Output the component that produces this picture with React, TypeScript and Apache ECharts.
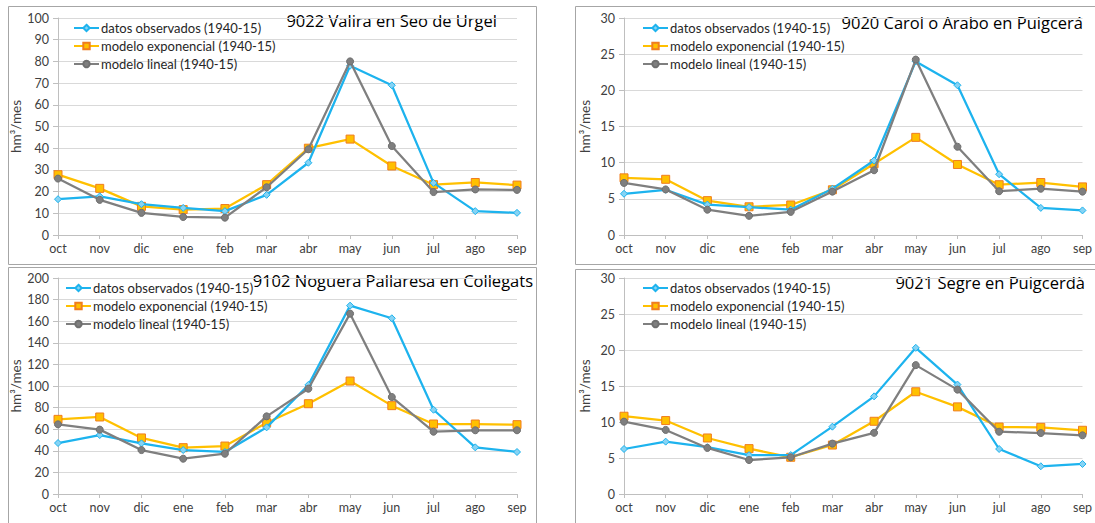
import React, { useEffect, useRef } from "react";
import * as echarts from "echarts";

const months = ["oct", "nov", "dic", "ene", "feb", "mar", "abr", "may", "jun", "jul", "ago", "sep"];
const seriesNames = ["datos observados (1940-15)", "modelo exponencial (1940-15)", "modelo lineal (1940-15)"];

const valiraObs = [16.5, 17.8, 14.2, 12.5, 11.0, 18.5, 33.3, 78.0, 69.0, 24.0, 11.0, 10.2];
const valiraExp = [27.8, 21.5, 13.2, 11.7, 12.2, 23.2, 40.0, 44.2, 31.8, 23.2, 24.2, 23.0];
const valiraLin = [26.0, 16.2, 10.2, 8.3, 8.0, 22.0, 39.5, 80.0, 41.0, 19.8, 21.0, 20.8];

const carolObs = [5.7, 6.25, 4.2, 3.85, 3.5, 6.4, 10.3, 24.0, 20.7, 8.4, 3.75, 3.4];
const carolExp = [7.9, 7.7, 4.75, 3.9, 4.15, 6.25, 9.85, 13.5, 9.75, 6.95, 7.25, 6.65];
const carolLin = [7.2, 6.3, 3.5, 2.65, 3.2, 6.0, 8.95, 24.25, 12.2, 6.05, 6.4, 6.0];

const nogueraObs = [47.2, 54.6, 46.9, 40.7, 38.9, 61.7, 101, 174.4, 162.7, 78, 43.2, 38.9];
const nogueraExp = [69.1, 71.3, 51.9, 42.9, 44.4, 66, 83.6, 104.6, 81.8, 64.8, 64.8, 64.2];
const nogueraLin = [64.5, 59.6, 40.7, 32.7, 37.3, 71.9, 97.5, 167, 89.8, 57.7, 59, 59];

const segreObs = [6.25, 7.27, 6.5, 5.4, 5.4, 9.35, 13.56, 20.3, 15.2, 6.25, 3.85, 4.17];
const segreExp = [10.8, 10.2, 7.78, 6.3, 5.1, 6.8, 10.1, 14.2, 12.1, 9.3, 9.26, 8.85];
const segreLin = [10.05, 8.9, 6.4, 4.72, 5.1, 7.0, 8.5, 17.9, 14.5, 8.65, 8.47, 8.15];

const titles = [
  "9022 Valira en Seo de Urgel",
  "9020 Carol o Arabo en Puigcerá",
  "9102 Noguera Pallaresa en Collegats",
  "9021 Segre en Puigcerdà",
];
const yMax = [100, 30, 200, 30];
const yStep = [10, 5, 20, 5];
const panelData = [
  [valiraObs, valiraExp, valiraLin],
  [carolObs, carolExp, carolLin],
  [nogueraObs, nogueraExp, nogueraLin],
  [segreObs, segreExp, segreLin],
];

const FONT = "Lato, 'Liberation Sans', sans-serif";
const TFONT = "'Open Sans', 'Noto Sans', sans-serif";
const TXT = "#404040";

const layout = [
  { gl: 58, gt: 18, tr: 497, ty: 24, ll: 73, lt: 21 },
  { gl: 624, gt: 18, tr: 1083, ty: 26, ll: 642, lt: 21 },
  { gl: 58, gt: 278, tr: 533, ty: 284, ll: 65, lt: 281 },
  { gl: 624, gt: 278, tr: 1085, ty: 286, ll: 642, lt: 281 },
];

export default function App() {
  const ref = useRef<HTMLDivElement>(null);
  useEffect(() => {
    if (!ref.current) return;
    const chart = echarts.init(ref.current, null, { renderer: "svg" });
    const grids: any[] = [];
    const xAxes: any[] = [];
    const yAxes: any[] = [];
    const series: any[] = [];
    const legends: any[] = [];
    const graphics: any[] = [];
    layout.forEach((L, i) => {
      grids.push({ left: L.gl, top: L.gt, width: 459, height: i < 2 ? 217 : 216, containLabel: false });
      xAxes.push({
        type: "category",
        gridIndex: i,
        data: months,
        boundaryGap: false,
        axisLine: { show: true, lineStyle: { color: "#BFBFBF", width: 1 } },
        axisTick: { show: true, length: 4, alignWithLabel: true, lineStyle: { color: "#BFBFBF" } },
        axisLabel: { color: TXT, fontFamily: FONT, fontSize: 12.5, margin: 7 },
        splitLine: { show: false },
      });
      yAxes.push({
        type: "value",
        gridIndex: i,
        min: 0,
        max: yMax[i],
        interval: yStep[i],
        name: "hm³/mes",
        nameLocation: "middle",
        nameRotate: 90,
        nameGap: 32,
        nameTextStyle: { color: TXT, fontFamily: FONT, fontSize: 13.5 },
        axisLine: { show: true, lineStyle: { color: "#BFBFBF", width: 1 } },
        axisTick: { show: true, length: 5, lineStyle: { color: "#BFBFBF" } },
        axisLabel: { color: TXT, fontFamily: FONT, fontSize: 12.5, margin: 9 },
        splitLine: { show: true, lineStyle: { color: "#D9D9D9", width: 1 } },
      });
      const [obs, exp, lin] = panelData[i];
      series.push({
        type: "line",
        name: seriesNames[0],
        xAxisIndex: i,
        yAxisIndex: i,
        data: obs,
        symbol: "diamond",
        symbolSize: 7,
        lineStyle: { color: "#1DB3EE", width: 2.25 },
        itemStyle: { color: "#86D3F4", borderColor: "#1DB3EE", borderWidth: 1 },
        z: 3,
      });
      series.push({
        type: "line",
        name: seriesNames[1],
        xAxisIndex: i,
        yAxisIndex: i,
        data: exp,
        symbol: "rect",
        symbolSize: 8,
        lineStyle: { color: "#FFC000", width: 2.25 },
        itemStyle: { color: "#FFC000", borderColor: "#F07D1E", borderWidth: 1 },
        z: 2,
      });
      series.push({
        type: "line",
        name: seriesNames[2],
        xAxisIndex: i,
        yAxisIndex: i,
        data: lin,
        symbol: "circle",
        symbolSize: 7,
        lineStyle: { color: "#7F7F7F", width: 2.25 },
        itemStyle: { color: "#7F7F7F", borderColor: "#6F6F6F", borderWidth: 1 },
        z: 4,
      });
      legends.push({
        orient: "vertical",
        left: L.ll,
        top: L.lt,
        padding: 0,
        itemGap: 4,
        itemWidth: 25,
        itemHeight: 8,
        data: seriesNames,
        selectedMode: false,
        textStyle: { color: "#262626", fontFamily: FONT, fontSize: 13, lineHeight: 14, padding: [0, 0, 0, -3] },
      });
      graphics.push({
        type: "text",
        right: 1095 - L.tr,
        top: L.ty - 12,
        style: { text: titles[i], fill: "#000", font: `16.5px ${TFONT}` },
      });
    });
    graphics.push(
      { type: "rect", shape: { x: 8.5, y: 6.5, width: 528, height: 258 }, style: { fill: "none", stroke: "#A6A6A6", lineWidth: 1 }, z: -1 },
      { type: "rect", shape: { x: 575.5, y: 6.5, width: 540, height: 258 }, style: { fill: "none", stroke: "#A6A6A6", lineWidth: 1 }, z: -1 },
      { type: "rect", shape: { x: 8.5, y: 267.5, width: 528, height: 280 }, style: { fill: "none", stroke: "#A6A6A6", lineWidth: 1 }, z: -1 },
      { type: "rect", shape: { x: 575.5, y: 269.5, width: 540, height: 280 }, style: { fill: "none", stroke: "#A6A6A6", lineWidth: 1 }, z: -1 }
    );
    chart.setOption({
      animation: false,
      backgroundColor: "#ffffff",
      grid: grids,
      xAxis: xAxes,
      yAxis: yAxes,
      legend: legends,
      series,
      graphic: graphics,
    });
    return () => chart.dispose();
  }, []);
  return (
    <div
      ref={ref}
      style={{ position: "absolute", left: 0, top: 0, width: 1095, height: 523 }}
    />
  );
}
